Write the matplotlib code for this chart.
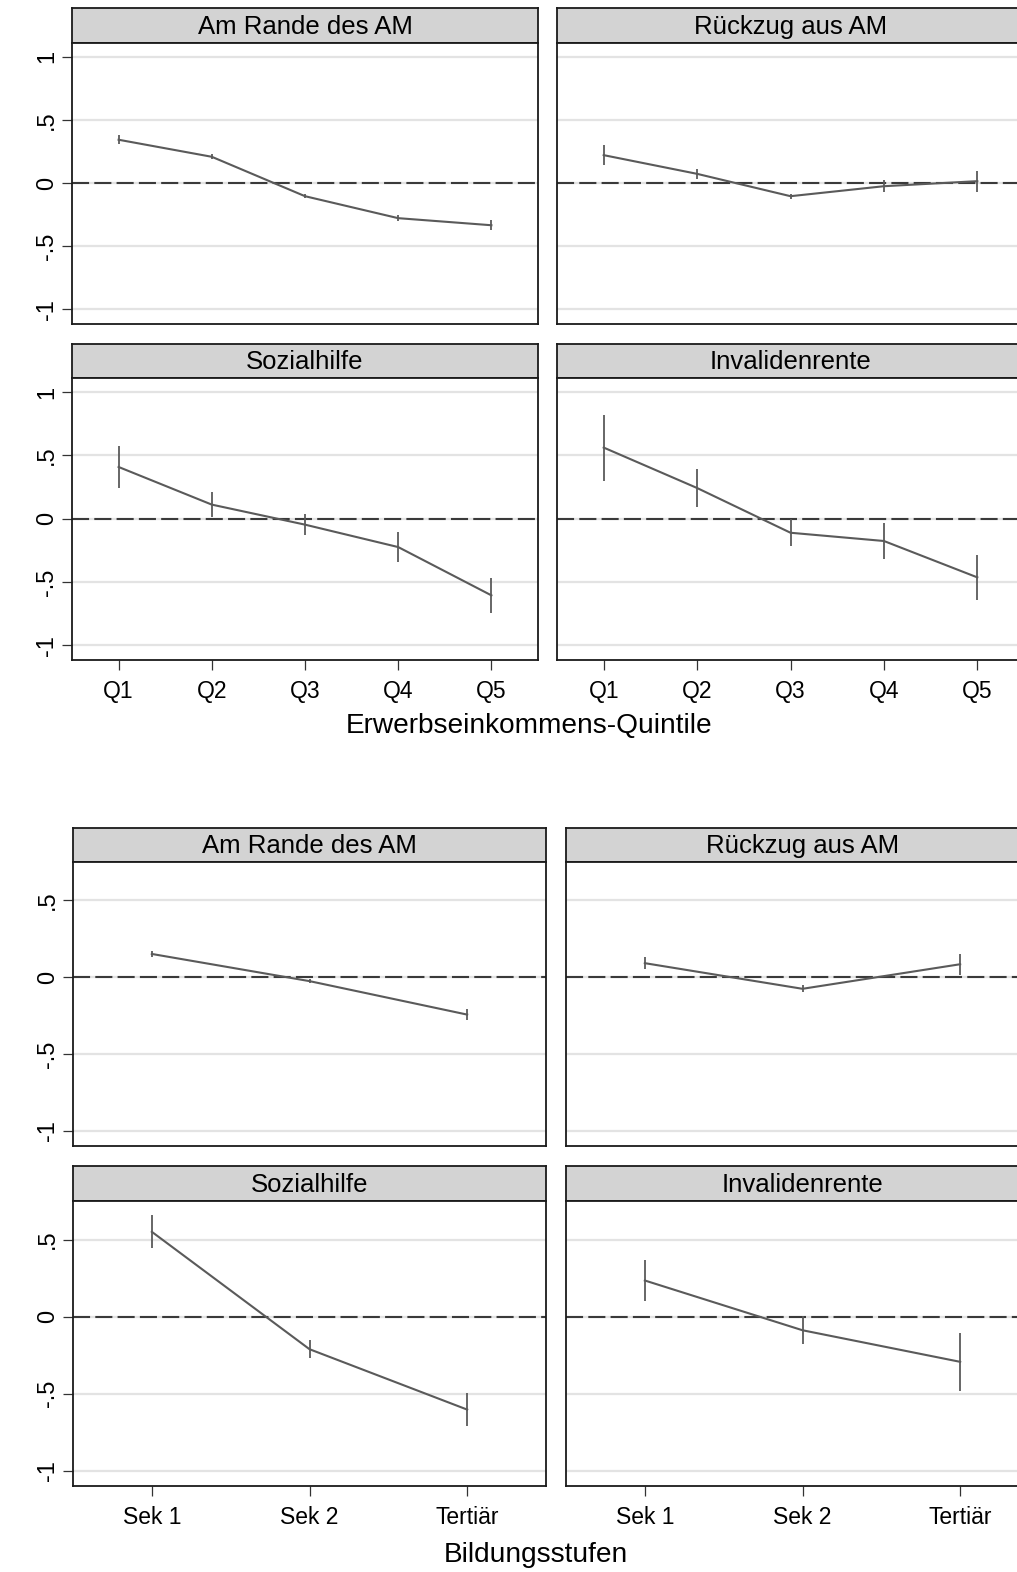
import matplotlib
matplotlib.use("Agg")
import matplotlib.pyplot as plt
import numpy as np

plt.rcParams['font.family'] = ['Liberation Sans', 'DejaVu Sans']

# ---------------- data ----------------
panel_titles = ["Am Rande des AM", "Rückzug aus AM", "Sozialhilfe", "Invalidenrente"]

quintile_labels = ["Q1", "Q2", "Q3", "Q4", "Q5"]
inc_rande_est = [0.344, 0.209, -0.103, -0.277, -0.333]
inc_rande_err = [0.036, 0.020, 0.018, 0.024, 0.038]
inc_rueck_est = [0.222, 0.074, -0.103, -0.024, 0.016]
inc_rueck_err = [0.079, 0.042, 0.021, 0.049, 0.083]
inc_sozh_est = [0.408, 0.111, -0.047, -0.224, -0.605]
inc_sozh_err = [0.162, 0.097, 0.082, 0.121, 0.136]
inc_inv_est = [0.561, 0.242, -0.111, -0.176, -0.463]
inc_inv_err = [0.260, 0.151, 0.107, 0.143, 0.176]
inc_xlabel = "Erwerbseinkommens-Quintile"

edu_labels = ["Sek 1", "Sek 2", "Tertiär"]
edu_rande_est = [0.151, -0.026, -0.244]
edu_rande_err = [0.018, 0.015, 0.034]
edu_rueck_est = [0.091, -0.076, 0.084]
edu_rueck_err = [0.041, 0.024, 0.067]
edu_sozh_est = [0.550, -0.212, -0.604]
edu_sozh_err = [0.108, 0.058, 0.106]
edu_inv_est = [0.234, -0.089, -0.294]
edu_inv_err = [0.134, 0.092, 0.187]
edu_xlabel = "Bildungsstufen"

inc_yticks = [1, 0.5, 0, -0.5, -1]
inc_yticklabels = ["1", ".5", "0", "-.5", "-1"]
edu_yticks = [0.5, 0, -0.5, -1]
edu_yticklabels = [".5", "0", "-.5", "-1"]

# ---------------- style ----------------
W, H = 1017, 1572
fig = plt.figure(figsize=(W / 100, H / 100), dpi=100)
fig.patch.set_facecolor("white")

LINE_C = "#5a5a5a"
GRID_C = "#e3e3e3"
ZERO_C = "#3a3a3a"
STRIP_C = "#d3d3d3"
FRAME_C = "#1a1a1a"


def px_axes(x0, x1, y0, y1):
    return fig.add_axes([x0 / W, 1 - y1 / H, (x1 - x0) / W, (y1 - y0) / H])


def draw_graph(rows, cols, cats, series, ylim, yticks, yticklabels):
    n = len(cats)
    xs = np.arange(1, n + 1)
    k = 0
    for r, (s0, p0, p1) in enumerate(rows):
        for c, (x0, x1) in enumerate(cols):
            est, err = series[k]
            title = panel_titles[k]
            k += 1
            # strip
            sax = px_axes(x0, x1, s0, p0)
            sax.set_facecolor(STRIP_C)
            sax.set_xticks([])
            sax.set_yticks([])
            for sp in sax.spines.values():
                sp.set_color(FRAME_C)
                sp.set_linewidth(1.3)
            sax.text(0.5, 0.47, title, transform=sax.transAxes, ha="center",
                     va="center", fontsize=18.5, color="black")
            # plot
            ax = px_axes(x0, x1, p0, p1)
            ax.set_xlim(0.5, n + 0.5)
            ax.set_ylim(*ylim)
            ax.set_yticks(yticks)
            ax.yaxis.grid(True, color=GRID_C, lw=1.6)
            ax.set_axisbelow(True)
            ax.axhline(0, color=ZERO_C, lw=1.5, dashes=(8.2, 2.5), zorder=2)
            ax.errorbar(xs, est, yerr=err, fmt="-", color=LINE_C, lw=1.5,
                        elinewidth=1.3, capsize=0, zorder=3)
            for sp in ax.spines.values():
                sp.set_color(FRAME_C)
                sp.set_linewidth(1.3)
            ax.tick_params(axis="both", length=7, width=0.9, color="#333333",
                           labelsize=16.5, labelcolor="black")
            ax.tick_params(axis="y", pad=3)
            ax.tick_params(axis="x", pad=7.5)
            if c == 0:
                ax.set_yticklabels(yticklabels, fontsize=17)
                for lab in ax.get_yticklabels():
                    lab.set_rotation(90)
                    lab.set_va("center")
                    lab.set_ha("right")
            else:
                ax.tick_params(axis="y", left=False, labelleft=False)
            ax.set_xticks(xs)
            if r == len(rows) - 1:
                ax.set_xticklabels(cats)
            else:
                ax.tick_params(axis="x", bottom=False, labelbottom=False)


inc_series = [(inc_rande_est, inc_rande_err), (inc_rueck_est, inc_rueck_err),
              (inc_sozh_est, inc_sozh_err), (inc_inv_est, inc_inv_err)]
edu_series = [(edu_rande_est, edu_rande_err), (edu_rueck_est, edu_rueck_err),
              (edu_sozh_est, edu_sozh_err), (edu_inv_est, edu_inv_err)]

draw_graph(rows=[(8, 43, 324), (344, 378, 660)],
           cols=[(72, 538), (557, 1024)],
           cats=quintile_labels, series=inc_series,
           ylim=(-1.115, 1.11), yticks=inc_yticks, yticklabels=inc_yticklabels)
fig.text(529 / W, 1 - 733 / H, inc_xlabel, ha="center", va="baseline",
         fontsize=20.2, color="black")

draw_graph(rows=[(828, 862, 1146), (1166, 1201, 1486)],
           cols=[(73, 546), (566, 1039)],
           cats=edu_labels, series=edu_series,
           ylim=(-1.10, 0.75), yticks=edu_yticks, yticklabels=edu_yticklabels)
fig.text(536 / W, 1 - 1562 / H, edu_xlabel, ha="center", va="baseline",
         fontsize=20.2, color="black")

fig.savefig("out.png", dpi=100, facecolor="white")
